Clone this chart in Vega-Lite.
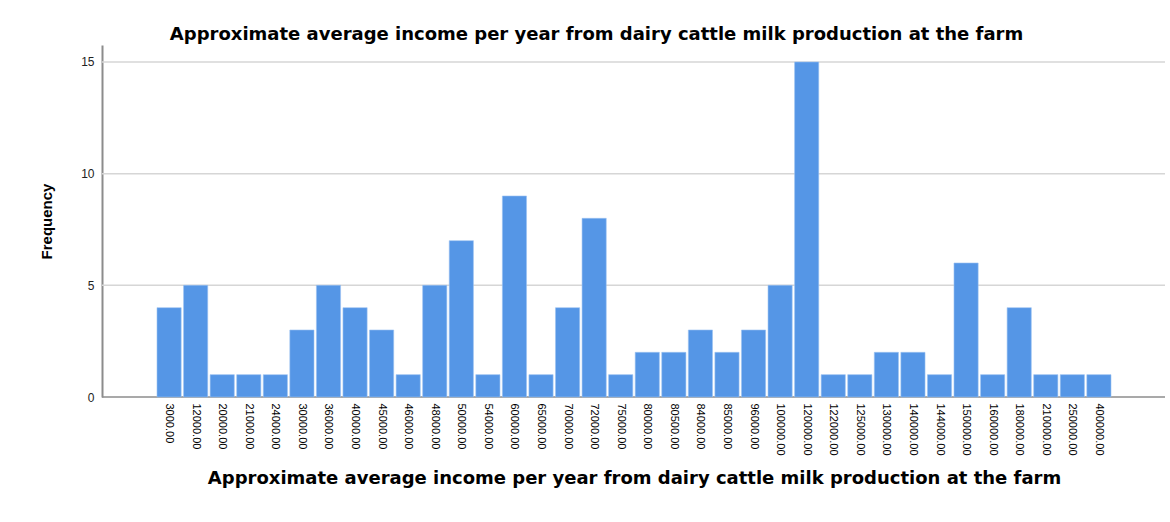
{
  "$schema": "https://vega.github.io/schema/vega-lite/v6.json",
  "width": 1063,
  "height": 352,
  "autosize": {"type": "none"},
  "padding": {"left": 102, "top": 45, "right": 5, "bottom": 125},
  "background": "white",
  "title": {
    "text": "Approximate average income per year from dairy cattle milk production at the farm",
    "font": "DejaVu Sans",
    "fontSize": 18,
    "fontWeight": "bold",
    "color": "#000000",
    "anchor": "middle",
    "frame": "group",
    "dx": -37,
    "offset": 1
  },
  "layer": [
    {
      "data": {"values": [{"level": 0}, {"level": 5}, {"level": 10}, {"level": 15}]},
      "mark": {"type": "rule", "strokeWidth": 1.5},
      "encoding": {
        "y": {"field": "level", "type": "quantitative"},
        "color": {
          "condition": {"test": "datum.level === 0", "value": "#8c8c8c"},
          "value": "#d6d6d6"
        },
        "strokeWidth": {
          "condition": {"test": "datum.level === 0", "value": 2},
          "value": 1.5
        }
      }
    },
    {
      "data": {
        "values": [
          {"income": "3000.00", "count": 4},
          {"income": "12000.00", "count": 5},
          {"income": "20000.00", "count": 1},
          {"income": "21000.00", "count": 1},
          {"income": "24000.00", "count": 1},
          {"income": "30000.00", "count": 3},
          {"income": "36000.00", "count": 5},
          {"income": "40000.00", "count": 4},
          {"income": "45000.00", "count": 3},
          {"income": "46000.00", "count": 1},
          {"income": "48000.00", "count": 5},
          {"income": "50000.00", "count": 7},
          {"income": "54000.00", "count": 1},
          {"income": "60000.00", "count": 9},
          {"income": "65000.00", "count": 1},
          {"income": "70000.00", "count": 4},
          {"income": "72000.00", "count": 8},
          {"income": "75000.00", "count": 1},
          {"income": "80000.00", "count": 2},
          {"income": "80500.00", "count": 2},
          {"income": "84000.00", "count": 3},
          {"income": "85000.00", "count": 2},
          {"income": "96000.00", "count": 3},
          {"income": "100000.00", "count": 5},
          {"income": "120000.00", "count": 15},
          {"income": "122000.00", "count": 1},
          {"income": "125000.00", "count": 1},
          {"income": "130000.00", "count": 2},
          {"income": "140000.00", "count": 2},
          {"income": "144000.00", "count": 1},
          {"income": "150000.00", "count": 6},
          {"income": "160000.00", "count": 1},
          {"income": "180000.00", "count": 4},
          {"income": "210000.00", "count": 1},
          {"income": "250000.00", "count": 1},
          {"income": "400000.00", "count": 1}
        ]
      },
      "mark": {"type": "bar", "color": "#5596e6", "stroke": "#9cc3f2", "strokeWidth": 0.6},
      "encoding": {
        "x": {
          "field": "income",
          "type": "nominal",
          "sort": null,
          "scale": {"range": [55, 1009], "paddingInner": 0.09, "paddingOuter": 0},
          "axis": {
            "title": "Approximate average income per year from dairy cattle milk production at the farm",
            "titleFont": "DejaVu Sans",
            "titleFontSize": 18,
            "titleFontWeight": "bold",
            "titleColor": "#000000",
            "titlePadding": 15,
            "labelAngle": 90,
            "labelAlign": "left",
            "labelBaseline": "middle",
            "labelFont": "Liberation Sans",
            "labelFontSize": 11,
            "labelColor": "#000000",
            "labelPadding": 6,
            "ticks": false,
            "domain": false,
            "grid": false
          }
        },
        "y": {
          "field": "count",
          "type": "quantitative",
          "scale": {"domain": [0, 15.76], "nice": false},
          "axis": {
            "title": "Frequency",
            "titleFont": "Liberation Sans",
            "titleFontSize": 15,
            "titleFontWeight": "bold",
            "titleColor": "#000000",
            "titlePadding": 26,
            "values": [0, 5, 10, 15],
            "labelFont": "Liberation Sans",
            "labelFontSize": 12,
            "labelColor": "#222222",
            "labelPadding": 8,
            "ticks": false,
            "domainColor": "#8c8c8c",
            "domainWidth": 2,
            "grid": false
          }
        }
      }
    }
  ],
  "config": {"view": {"stroke": null}}
}
